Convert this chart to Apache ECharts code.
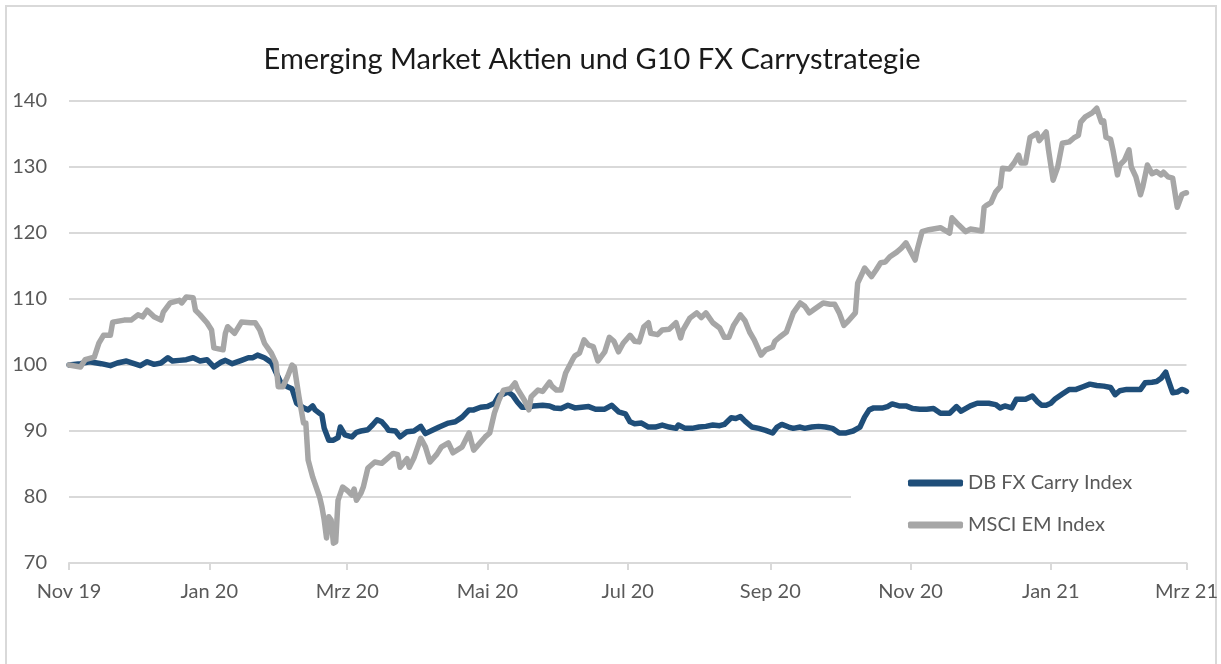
<!DOCTYPE html>
<html>
<head>
<meta charset="utf-8">
<script src="https://cdn.jsdelivr.net/npm/echarts@6/dist/echarts.min.js"></script>
<style>
  html, body { margin: 0; padding: 0; background: #fff; overflow: hidden; }
  #frame { position: absolute; left: 5px; top: 5px; width: 1212px; height: 700px; border: 2px solid #d9d9d9; box-sizing: border-box; }
  #chart { position: absolute; left: 0; top: 0; width: 1221px; height: 664px; }
</style>
</head>
<body>
<div id="frame"></div>
<div id="chart"></div>
<script>
// Monatskürzel und Tick-Positionen (alle zwei Monate)
var monthNames = ['Jan', 'Feb', 'Mrz', 'Apr', 'Mai', 'Jun', 'Jul', 'Aug', 'Sep', 'Okt', 'Nov', 'Dez']
var tickMonths = [[2019, 10], [2020, 0], [2020, 2], [2020, 4], [2020, 6], [2020, 8], [2020, 10], [2021, 0], [2021, 2]]
var yMin = 70
var yMax = 140
var yStep = 10

// DB FX Carry Index
var dbCarry = [
  ['2019-11-01', 100], ['2019-11-06', 100.2], ['2019-11-10', 100.5], ['2019-11-15', 100.2], ['2019-11-19', 99.9],
  ['2019-11-22', 100.3], ['2019-11-26', 100.6], ['2019-12-02', 99.9], ['2019-12-05', 100.5], ['2019-12-08', 100.1],
  ['2019-12-11', 100.3], ['2019-12-14', 101.1], ['2019-12-16', 100.6], ['2019-12-19', 100.7], ['2019-12-22', 100.8],
  ['2019-12-25', 101.1], ['2019-12-28', 100.6], ['2019-12-31', 100.8], ['2020-01-03', 99.7], ['2020-01-06', 100.4],
  ['2020-01-08', 100.7], ['2020-01-11', 100.2], ['2020-01-15', 100.7], ['2020-01-18', 101.1], ['2020-01-20', 101.1],
  ['2020-01-22', 101.5], ['2020-01-25', 101.1], ['2020-01-28', 100.4], ['2020-01-30', 98.9], ['2020-02-01', 97.4],
  ['2020-02-04', 96.7], ['2020-02-06', 96.4], ['2020-02-08', 94.2], ['2020-02-11', 93.5], ['2020-02-13', 93.2],
  ['2020-02-15', 93.8], ['2020-02-16', 93.2], ['2020-02-19', 92.4], ['2020-02-20', 90.4], ['2020-02-22', 88.6],
  ['2020-02-24', 88.6], ['2020-02-26', 89], ['2020-02-27', 90.6], ['2020-02-29', 89.4], ['2020-03-03', 89.1],
  ['2020-03-05', 89.8], ['2020-03-07', 90], ['2020-03-10', 90.2], ['2020-03-12', 90.9], ['2020-03-14', 91.7],
  ['2020-03-16', 91.4], ['2020-03-18', 90.6], ['2020-03-19', 90.1], ['2020-03-22', 90], ['2020-03-24', 89.1],
  ['2020-03-27', 89.9], ['2020-03-30', 90], ['2020-04-02', 90.7], ['2020-04-04', 89.6], ['2020-04-07', 90.1],
  ['2020-04-10', 90.6], ['2020-04-14', 91.2], ['2020-04-17', 91.4], ['2020-04-20', 92.1], ['2020-04-23', 93.2],
  ['2020-04-25', 93.2], ['2020-04-28', 93.6], ['2020-05-01', 93.7], ['2020-05-04', 94.2], ['2020-05-06', 95.4],
  ['2020-05-08', 95.6], ['2020-05-10', 95.9], ['2020-05-12', 95.4], ['2020-05-14', 94.4], ['2020-05-16', 93.6],
  ['2020-05-19', 93.6], ['2020-05-21', 93.8], ['2020-05-25', 93.9], ['2020-05-28', 93.8], ['2020-05-30', 93.5],
  ['2020-06-02', 93.4], ['2020-06-05', 93.9], ['2020-06-08', 93.5], ['2020-06-11', 93.6], ['2020-06-14', 93.7],
  ['2020-06-17', 93.3], ['2020-06-19', 93.3], ['2020-06-21', 93.3], ['2020-06-24', 93.9], ['2020-06-27', 92.9],
  ['2020-06-30', 92.6], ['2020-07-02', 91.4], ['2020-07-04', 91.1], ['2020-07-07', 91.2], ['2020-07-10', 90.6],
  ['2020-07-13', 90.6], ['2020-07-16', 90.9], ['2020-07-19', 90.6], ['2020-07-22', 90.4], ['2020-07-23', 90.9],
  ['2020-07-26', 90.4], ['2020-07-29', 90.4], ['2020-08-01', 90.6], ['2020-08-04', 90.7], ['2020-08-07', 90.9],
  ['2020-08-10', 90.8], ['2020-08-12', 91], ['2020-08-15', 92], ['2020-08-17', 91.9], ['2020-08-19', 92.2],
  ['2020-08-21', 91.5], ['2020-08-24', 90.6], ['2020-08-27', 90.4], ['2020-08-30', 90.1], ['2020-09-02', 89.7],
  ['2020-09-04', 90.6], ['2020-09-06', 91], ['2020-09-09', 90.6], ['2020-09-11', 90.4], ['2020-09-14', 90.6],
  ['2020-09-16', 90.4], ['2020-09-19', 90.6], ['2020-09-22', 90.7], ['2020-09-25', 90.6], ['2020-09-28', 90.4],
  ['2020-10-01', 89.7], ['2020-10-04', 89.7], ['2020-10-07', 90], ['2020-10-10', 90.6], ['2020-10-12', 92.1],
  ['2020-10-14', 93.2], ['2020-10-16', 93.5], ['2020-10-20', 93.5], ['2020-10-22', 93.7], ['2020-10-24', 94.1],
  ['2020-10-27', 93.8], ['2020-10-30', 93.8], ['2020-11-02', 93.4], ['2020-11-05', 93.3], ['2020-11-08', 93.3],
  ['2020-11-11', 93.4], ['2020-11-14', 92.7], ['2020-11-18', 92.7], ['2020-11-21', 93.7], ['2020-11-23', 93],
  ['2020-11-27', 93.8], ['2020-11-30', 94.2], ['2020-12-05', 94.2], ['2020-12-08', 94], ['2020-12-10', 93.5],
  ['2020-12-12', 93.8], ['2020-12-15', 93.5], ['2020-12-17', 94.8], ['2020-12-21', 94.8], ['2020-12-24', 95.3],
  ['2020-12-26', 94.5], ['2020-12-28', 93.9], ['2020-12-30', 93.9], ['2021-01-01', 94.2], ['2021-01-03', 94.9],
  ['2021-01-06', 95.6], ['2021-01-09', 96.3], ['2021-01-12', 96.3], ['2021-01-15', 96.7], ['2021-01-18', 97.1],
  ['2021-01-21', 96.9], ['2021-01-24', 96.8], ['2021-01-27', 96.6], ['2021-01-29', 95.5], ['2021-01-31', 96.1],
  ['2021-02-03', 96.3], ['2021-02-06', 96.3], ['2021-02-09', 96.3], ['2021-02-11', 97.3], ['2021-02-14', 97.4],
  ['2021-02-16', 97.5], ['2021-02-18', 98], ['2021-02-20', 98.9], ['2021-02-21', 97.8], ['2021-02-23', 95.8],
  ['2021-02-25', 95.9], ['2021-02-27', 96.3], ['2021-02-28', 96.2], ['2021-03-01', 96]
]

// MSCI EM Index
var msciEm = [
  ['2019-11-01', 100], ['2019-11-06', 99.7], ['2019-11-08', 100.8], ['2019-11-12', 101.2], ['2019-11-14', 103.3],
  ['2019-11-16', 104.5], ['2019-11-19', 104.5], ['2019-11-20', 106.5], ['2019-11-25', 106.8], ['2019-11-28', 106.8],
  ['2019-12-01', 107.6], ['2019-12-03', 107.3], ['2019-12-05', 108.3], ['2019-12-08', 107.3], ['2019-12-11', 106.8],
  ['2019-12-12', 108], ['2019-12-15', 109.4], ['2019-12-19', 109.8], ['2019-12-20', 109.4], ['2019-12-22', 110.3],
  ['2019-12-25', 110.2], ['2019-12-26', 108.3], ['2019-12-28', 107.6], ['2019-12-31', 106.4], ['2020-01-02', 105.3],
  ['2020-01-03', 102.6], ['2020-01-07', 102.3], ['2020-01-08', 104.8], ['2020-01-09', 105.8], ['2020-01-12', 104.8],
  ['2020-01-15', 106.5], ['2020-01-19', 106.4], ['2020-01-21', 106.4], ['2020-01-23', 105.3], ['2020-01-25', 103.3],
  ['2020-01-28', 101.8], ['2020-01-30', 100.3], ['2020-01-31', 96.7], ['2020-02-02', 96.7], ['2020-02-04', 98.2],
  ['2020-02-06', 100], ['2020-02-07', 99.7], ['2020-02-09', 95.2], ['2020-02-11', 91.2], ['2020-02-12', 91.2],
  ['2020-02-13', 85.6], ['2020-02-15', 83], ['2020-02-18', 80], ['2020-02-19', 78.5], ['2020-02-20', 76.5],
  ['2020-02-21', 73.8], ['2020-02-22', 77], ['2020-02-23', 76.5], ['2020-02-24', 73], ['2020-02-25', 73.2],
  ['2020-02-26', 79.5], ['2020-02-28', 81.5], ['2020-03-01', 81], ['2020-03-03', 80.3], ['2020-03-04', 81.2],
  ['2020-03-05', 79.5], ['2020-03-07', 80.6], ['2020-03-08', 81.5], ['2020-03-10', 84.4], ['2020-03-13', 85.3],
  ['2020-03-16', 85.1], ['2020-03-19', 86], ['2020-03-21', 86.6], ['2020-03-23', 86.4], ['2020-03-24', 84.5],
  ['2020-03-27', 85.8], ['2020-03-28', 84.5], ['2020-03-30', 85.9], ['2020-04-02', 88.9], ['2020-04-04', 87.6],
  ['2020-04-06', 85.3], ['2020-04-09', 86.5], ['2020-04-11', 87.6], ['2020-04-14', 88.2], ['2020-04-16', 86.7],
  ['2020-04-20', 87.6], ['2020-04-23', 89.7], ['2020-04-25', 87.1], ['2020-04-27', 87.9], ['2020-04-30', 89.1],
  ['2020-05-02', 89.7], ['2020-05-04', 92.7], ['2020-05-06', 94.7], ['2020-05-08', 96.2], ['2020-05-11', 96.4],
  ['2020-05-13', 97.3], ['2020-05-14', 96.4], ['2020-05-17', 94.7], ['2020-05-19', 93.2], ['2020-05-20', 95.2],
  ['2020-05-23', 96.2], ['2020-05-25', 96], ['2020-05-28', 97.4], ['2020-05-29', 96.8], ['2020-05-31', 96.2],
  ['2020-06-02', 96.2], ['2020-06-04', 98.8], ['2020-06-07', 100.8], ['2020-06-08', 101.4], ['2020-06-10', 101.8],
  ['2020-06-12', 103.8], ['2020-06-14', 103], ['2020-06-16', 102.8], ['2020-06-18', 100.6], ['2020-06-21', 102],
  ['2020-06-23', 104.2], ['2020-06-25', 103.6], ['2020-06-27', 102], ['2020-06-29', 103.3], ['2020-07-02', 104.5],
  ['2020-07-04', 103.6], ['2020-07-06', 103.5], ['2020-07-08', 105.8], ['2020-07-10', 106.4], ['2020-07-11', 104.8],
  ['2020-07-14', 104.6], ['2020-07-16', 105.3], ['2020-07-19', 105.4], ['2020-07-22', 106.4], ['2020-07-24', 104.1],
  ['2020-07-25', 105.3], ['2020-07-28', 107.1], ['2020-07-31', 107.9], ['2020-08-02', 107.2], ['2020-08-04', 107.9],
  ['2020-08-07', 106.4], ['2020-08-10', 105.6], ['2020-08-12', 104.2], ['2020-08-14', 104.2], ['2020-08-16', 106],
  ['2020-08-19', 107.6], ['2020-08-21', 106.7], ['2020-08-23', 105], ['2020-08-25', 103.8], ['2020-08-28', 101.5],
  ['2020-08-30', 102.3], ['2020-09-02', 102.7], ['2020-09-03', 103.6], ['2020-09-05', 104.2], ['2020-09-08', 105],
  ['2020-09-11', 107.9], ['2020-09-14', 109.4], ['2020-09-16', 108.9], ['2020-09-18', 107.9], ['2020-09-20', 108.4],
  ['2020-09-24', 109.4], ['2020-09-27', 109.2], ['2020-09-29', 109.2], ['2020-10-01', 107.9], ['2020-10-03', 106],
  ['2020-10-05', 106.7], ['2020-10-08', 107.9], ['2020-10-09', 112.4], ['2020-10-11', 113.9], ['2020-10-12', 114.7],
  ['2020-10-15', 113.4], ['2020-10-17', 114.4], ['2020-10-19', 115.5], ['2020-10-21', 115.6], ['2020-10-23', 116.4],
  ['2020-10-26', 117.1], ['2020-10-28', 117.7], ['2020-10-30', 118.5], ['2020-11-01', 117.2], ['2020-11-03', 115.9],
  ['2020-11-04', 117.6], ['2020-11-06', 120.2], ['2020-11-09', 120.5], ['2020-11-14', 120.8], ['2020-11-16', 120.4],
  ['2020-11-18', 120], ['2020-11-19', 122.3], ['2020-11-22', 121.2], ['2020-11-25', 120.2], ['2020-11-27', 120.6],
  ['2020-11-29', 120.5], ['2020-12-02', 120.3], ['2020-12-03', 123.9], ['2020-12-04', 124.2], ['2020-12-06', 124.6],
  ['2020-12-08', 126.2], ['2020-12-10', 127], ['2020-12-11', 129.8], ['2020-12-14', 129.7], ['2020-12-16', 130.6],
  ['2020-12-18', 131.8], ['2020-12-19', 130.6], ['2020-12-21', 130.6], ['2020-12-23', 134.5], ['2020-12-26', 135.1],
  ['2020-12-27', 134], ['2020-12-30', 135.3], ['2020-12-31', 132.6], ['2021-01-02', 128], ['2021-01-04', 130],
  ['2021-01-06', 133.6], ['2021-01-09', 133.8], ['2021-01-11', 134.4], ['2021-01-13', 134.8], ['2021-01-14', 136.8],
  ['2021-01-16', 137.6], ['2021-01-19', 138.2], ['2021-01-21', 138.9], ['2021-01-23', 136.8], ['2021-01-24', 137],
  ['2021-01-25', 134.5], ['2021-01-27', 134.2], ['2021-01-28', 132.6], ['2021-01-30', 128.8], ['2021-01-31', 130.3],
  ['2021-02-02', 131], ['2021-02-04', 132.6], ['2021-02-05', 130], ['2021-02-07', 128.5], ['2021-02-09', 125.8],
  ['2021-02-10', 127], ['2021-02-12', 130.3], ['2021-02-14', 129], ['2021-02-16', 129.3], ['2021-02-18', 128.8],
  ['2021-02-19', 129.2], ['2021-02-21', 128.5], ['2021-02-23', 128.3], ['2021-02-25', 123.9], ['2021-02-27', 125.8],
  ['2021-02-28', 126], ['2021-03-01', 126.1]
]

// Datumswerte als UTC-Zeitstempel auf eine Werteachse legen
function toPoints(rows) {
  return rows.map(function (r) { return [Date.parse(r[0] + 'T00:00:00Z'), r[1]] })
}
var tickValues = tickMonths.map(function (m) { return Date.UTC(m[0], m[1], 1) })
var labelFont = 'Lato, "Liberation Sans", sans-serif'

var myChart = echarts.init(document.getElementById('chart'))
myChart.setOption({
  animation: false,
  title: {
    text: 'Emerging Market Aktien und G10 FX Carrystrategie',
    left: 587,
    top: 40,
    textAlign: 'center',
    textStyle: {
      fontFamily: labelFont,
      fontWeight: 'normal',
      fontSize: 29,
      color: '#1a1a1a'
    }
  },
  legend: {
    orient: 'vertical',
    left: 851,
    top: 445,
    padding: [26, 70, 18, 57],
    backgroundColor: '#ffffff',
    itemWidth: 55,
    itemHeight: 7,
    itemGap: 18,
    icon: 'roundRect',
    textStyle: {
      fontFamily: labelFont,
      fontSize: 20,
      lineHeight: 24,
      color: '#595959'
    },
    data: ['DB FX Carry Index', 'MSCI EM Index']
  },
  grid: {
    left: 69,
    right: 34,
    top: 101,
    bottom: 101,
    containLabel: false
  },
  xAxis: {
    type: 'value',
    min: tickValues[0],
    max: tickValues[tickValues.length - 1],
    axisLine: { show: true, lineStyle: { color: '#d9d9d9', width: 2 } },
    axisTick: {
      show: true,
      length: 7,
      customValues: tickValues,
      lineStyle: { color: '#d9d9d9', width: 2 }
    },
    axisLabel: {
      customValues: tickValues,
      margin: 19,
      fontFamily: labelFont,
      fontSize: 20,
      color: '#595959',
      formatter: function (val) {
        var d = new Date(val)
        return monthNames[d.getUTCMonth()] + ' ' + String(d.getUTCFullYear()).slice(2)
      }
    },
    splitLine: { show: false }
  },
  yAxis: {
    type: 'value',
    min: yMin,
    max: yMax,
    interval: yStep,
    axisLine: { show: false },
    axisTick: { show: false },
    axisLabel: {
      margin: 22,
      fontFamily: labelFont,
      fontSize: 20,
      color: '#595959'
    },
    splitLine: { lineStyle: { color: '#d9d9d9', width: 2 } }
  },
  series: [{
    name: 'DB FX Carry Index',
    type: 'line',
    data: toPoints(dbCarry),
    showSymbol: false,
    symbol: 'none',
    itemStyle: { color: '#1F4E79' },
    lineStyle: { color: '#1F4E79', width: 5.5, cap: 'round', join: 'round' }
  }, {
    name: 'MSCI EM Index',
    type: 'line',
    data: toPoints(msciEm),
    showSymbol: false,
    symbol: 'none',
    itemStyle: { color: '#A6A6A6' },
    lineStyle: { color: '#A6A6A6', width: 5.5, cap: 'round', join: 'round' }
  }]
})
</script>
</body>
</html>
